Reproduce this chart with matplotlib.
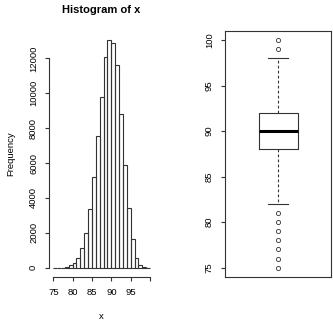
import matplotlib
matplotlib.use('Agg')
import matplotlib.pyplot as plt
import numpy as np

plt.rcParams['font.family'] = ['Liberation Sans', 'DejaVu Sans']

# histogram bins (width 1, from 75 to 100) and their counts
bin_edges = list(range(75, 101))
counts = [2, 3, 10, 40, 150, 270, 535, 1110, 1970, 3360, 5200, 7530, 9780,
          12060, 13050, 12860, 11620, 8790, 5880, 3440, 1630, 555, 150, 30, 5]

# boxplot summary of the same sample
box_q1 = 88
box_med = 90
box_q3 = 92
whisker_lo = 82
whisker_hi = 98
outliers = [75, 76, 77, 78, 79, 80, 81, 99, 100]

line_col = '#333333'
W, H = 333, 325
fig = plt.figure(figsize=(W / 100, H / 100), dpi=100)

def frac(x0, y0, x1, y1):
    return [x0 / W, 1 - y1 / H, (x1 - x0) / W, (y1 - y0) / H]

# --- left: histogram ---
ax = fig.add_axes(frac(49.4, 30.9, 153.9, 276.8))
ax.hist(np.array(bin_edges[:-1]) + 0.5, bins=bin_edges, weights=counts,
        histtype='bar', fill=False, edgecolor=line_col, linewidth=0.8)
ymax = max(counts)
ax.set_xlim(74, 101)
ax.set_ylim(-0.04 * ymax, 1.04 * ymax)
for s in ['top', 'right']:
    ax.spines[s].set_visible(False)
ax.spines['left'].set_bounds(0, 12000)
ax.spines['bottom'].set_bounds(75, 100)
for s in ['left', 'bottom']:
    ax.spines[s].set_color(line_col)
    ax.spines[s].set_linewidth(0.8)
ax.set_xticks(range(75, 101, 5))
ax.set_xticklabels(['75', '80', '85', '90', '95', ''])
ax.set_yticks(range(0, 12001, 2000))
ax.set_yticklabels([str(v) for v in range(0, 12001, 2000)], rotation=90, va='center')
ax.tick_params(length=3.2, width=0.8, color=line_col, labelsize=6.8)
ax.tick_params(axis='x', pad=5)
ax.tick_params(axis='y', pad=5)
ax.set_title('Histogram of x', fontsize=8, fontweight='bold', pad=13)
ax.set_xlabel('x', fontsize=6.8, labelpad=11)
ax.set_ylabel('Frequency', fontsize=6.8, labelpad=10)

# --- right: boxplot ---
bx = fig.add_axes(frac(225.3, 30.9, 331.0, 276.8))
stats = [dict(med=box_med, q1=box_q1, q3=box_q3, whislo=whisker_lo,
              whishi=whisker_hi, fliers=outliers)]
bx.bxp(stats, positions=[1], widths=0.4,
       boxprops=dict(color=line_col, linewidth=0.8),
       medianprops=dict(color='black', linewidth=2.2),
       whiskerprops=dict(color=line_col, linewidth=0.8, linestyle=(0, (2.5, 2))),
       capprops=dict(color=line_col, linewidth=0.8),
       capwidths=0.2,
       flierprops=dict(marker='o', markersize=3, markerfacecolor='none',
                       markeredgecolor=line_col, markeredgewidth=0.6))
bx.set_xlim(0.46, 1.54)
bx.set_ylim(74, 101)
bx.set_xticks([])
bx.set_yticks(range(75, 101, 5))
bx.set_yticklabels([str(v) for v in range(75, 101, 5)], rotation=90, va='center')
bx.tick_params(length=3.2, width=0.8, color=line_col, labelsize=6.8, pad=5)
for s in bx.spines.values():
    s.set_color(line_col)
    s.set_linewidth(0.8)

fig.savefig('out.png', dpi=100, facecolor='white')
